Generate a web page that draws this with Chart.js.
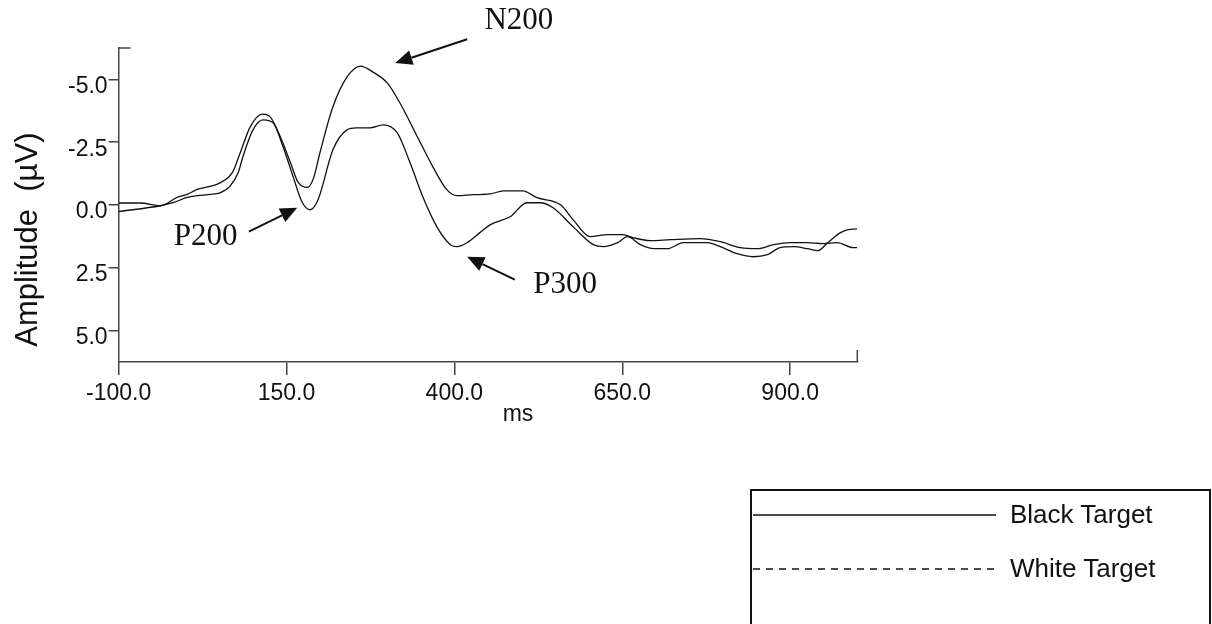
<!DOCTYPE html>
<html>
<head>
<meta charset="utf-8">
<script src="https://cdn.jsdelivr.net/npm/chart.js@4.4.1/dist/chart.umd.min.js"></script>
<style>
html,body{margin:0;padding:0;background:#fff;overflow:hidden}
#wrap{position:relative;width:1212px;height:624px}
#legend{position:absolute;left:750px;top:489px;width:457px;height:200px;border:2px solid #111;
  font-family:'Liberation Sans',Arial,sans-serif;font-size:26px;color:#111}
#legend .row{position:absolute;left:0;height:30px;width:100%}
#legend svg{position:absolute;left:1px;top:0}
#legend span{position:absolute;left:258px;top:0;line-height:30px}
</style>
</head>
<body>
<div id="wrap">
  <canvas id="chart" width="1212" height="624"></canvas>
  <div id="legend">
    <div class="row" style="top:8px">
      <svg width="245" height="30"><line x1="0" y1="16" x2="243" y2="16" stroke="#111" stroke-width="1.6"/></svg>
      <span>Black Target</span>
    </div>
    <div class="row" style="top:62px">
      <svg width="245" height="30"><line x1="0" y1="16" x2="243" y2="16" stroke="#111" stroke-width="1.5" stroke-dasharray="7 6"/></svg>
      <span>White Target</span>
    </div>
  </div>
</div>
<script>
// tick labels
const xTicks = [-100, 150, 400, 650, 900]
const yTicks = [-5, -2.5, 0, 2.5, 5]

// Black Target (bigger N200)
const msBlack = [-100,-68,-38,-13,2,17,32,51,70,81,96,114,126,141,156,167,181,190,200,219,240,260,279,300,319,345,368,389,404,428,453,473,502,523,558,577,602,628,651,666,692,722,766,796,826,851,875,900,925,949,970,994,1000]
const uvBlack = [-0.08,-0.08,0.03,-0.3,-0.42,-0.62,-0.72,-0.88,-1.32,-2.07,-3.11,-3.62,-3.50,-2.71,-1.68,-0.92,-0.70,-1.05,-2.1,-3.90,-5.09,-5.53,-5.29,-4.86,-4.06,-2.71,-1.52,-0.60,-0.37,-0.41,-0.44,-0.56,-0.56,-0.29,-0.01,0.59,1.26,1.18,1.18,1.30,1.42,1.38,1.34,1.46,1.70,1.74,1.58,1.50,1.50,1.54,1.50,1.70,1.70]

// White Target
const msWhite = [-100,-38,-19,2,17,36,51,66,78,85,100,115,130,145,160,173,185,197,219,240,254,274,294,315,334,353,374,394,404,419,438,453,483,508,528,547,577,607,622,643,658,677,697,717,741,777,796,821,845,866,885,905,926,941,956,975,985,1000]
const uvWhite = [0.26,0.03,-0.09,-0.3,-0.37,-0.42,-0.48,-0.75,-1.28,-1.91,-2.99,-3.39,-3.27,-2.31,-1.12,-0.13,0.19,-0.21,-2.19,-2.99,-3.07,-3.07,-3.19,-2.87,-1.68,-0.33,0.87,1.58,1.66,1.50,1.10,0.79,0.47,-0.09,-0.09,0.11,0.87,1.58,1.66,1.50,1.26,1.58,1.74,1.74,1.50,1.50,1.66,1.94,2.06,1.98,1.70,1.66,1.74,1.82,1.50,1.10,0.99,0.95]

const toPts = (xs, ys) => xs.map((x, i) => ({x: x, y: ys[i]}))

const sans = "'Liberation Sans', Arial, sans-serif"
const serif = "'Liberation Serif', 'Times New Roman', serif"
const axisColor = '#444'

// peak labels, placed in data units (ms, µV)
const notes = [
  {text: 'N200', at: [496, -7.32], from: [419, -6.60], to: [312, -5.65]},
  {text: 'P200', at: [29.5, 1.28], from: [94, 1.06], to: [166, 0.11]},
  {text: 'P300', at: [565, 3.17], from: [490, 2.97], to: [419, 2.06]},
]

function arrow(ctx, x1, y1, x2, y2){
  const ang = Math.atan2(y2 - y1, x2 - x1)
  const len = 17, half = 7.5
  const bx = x2 - len*Math.cos(ang), by = y2 - len*Math.sin(ang)
  ctx.beginPath()
  ctx.moveTo(x1, y1)
  ctx.lineTo(bx, by)
  ctx.lineWidth = 2
  ctx.stroke()
  ctx.beginPath()
  ctx.moveTo(x2, y2)
  ctx.lineTo(bx + half*Math.sin(ang), by - half*Math.cos(ang))
  ctx.lineTo(bx - half*Math.sin(ang), by + half*Math.cos(ang))
  ctx.closePath()
  ctx.fill()
}

const extras = {
  id: 'extras',
  afterDraw(chart){
    const ctx = chart.ctx
    const xs = chart.scales.x, ys = chart.scales.y
    const area = chart.chartArea
    ctx.save()
    ctx.fillStyle = '#111'
    ctx.strokeStyle = '#111'

    // annotations
    ctx.font = '31px ' + serif
    ctx.textAlign = 'center'
    ctx.textBaseline = 'middle'
    notes.forEach(n => {
      ctx.fillText(n.text, xs.getPixelForValue(n.at[0]), ys.getPixelForValue(n.at[1]))
      arrow(ctx, xs.getPixelForValue(n.from[0]), ys.getPixelForValue(n.from[1]),
                 xs.getPixelForValue(n.to[0]), ys.getPixelForValue(n.to[1]))
    })

    // axis end caps
    ctx.strokeStyle = axisColor
    ctx.lineWidth = 1.5
    ctx.beginPath()
    ctx.moveTo(area.left, area.top)
    ctx.lineTo(area.left + 12, area.top)
    ctx.moveTo(area.right, area.bottom)
    ctx.lineTo(area.right, area.bottom - 12)
    ctx.stroke()

    // y title
    ctx.translate(28, ys.getPixelForValue(1.38))
    ctx.rotate(-Math.PI/2)
    ctx.font = '31px ' + sans
    ctx.fillText('Amplitude  (µV)', 0, 0)
    ctx.restore()

    // x title
    ctx.save()
    ctx.fillStyle = '#111'
    ctx.font = '23px ' + sans
    ctx.textAlign = 'center'
    ctx.textBaseline = 'middle'
    ctx.fillText('ms', 518, area.bottom + 53)
    ctx.restore()
  }
}

const ctx = document.getElementById('chart').getContext('2d')
new Chart(ctx, {
  type: 'line',
  data: {
    datasets: [
      {label: 'Black Target', data: toPts(msBlack, uvBlack), borderColor: '#111', borderWidth: 1.3,
       pointRadius: 0, cubicInterpolationMode: 'monotone', fill: false},
      {label: 'White Target', data: toPts(msWhite, uvWhite), borderColor: '#111', borderWidth: 1.3,
       pointRadius: 0, cubicInterpolationMode: 'monotone', fill: false},
    ]
  },
  options: {
    responsive: false,
    animation: false,
    devicePixelRatio: 1,
    layout: {padding: {left: 0, top: 48, right: 354.7, bottom: 222}},
    plugins: {legend: {display: false}, tooltip: {enabled: false}},
    scales: {
      x: {
        type: 'linear', min: -100, max: 1000,
        afterBuildTicks: s => { s.ticks = xTicks.map(v => ({value: v})) },
        afterFit: s => { s.height = 40 },
        grid: {drawOnChartArea: false, tickLength: 13, color: axisColor, lineWidth: 1.5},
        border: {color: axisColor, width: 1.5},
        ticks: {padding: 5, color: '#111', font: {family: sans, size: 23}, maxRotation: 0, autoSkip: false,
                callback: v => v.toFixed(1)}
      },
      y: {
        type: 'linear', min: -6.25, max: 6.25, reverse: true,
        afterBuildTicks: s => { s.ticks = yTicks.map(v => ({value: v})) },
        afterFit: s => { s.width = 118.6 },
        grid: {drawOnChartArea: false, tickLength: 10, color: axisColor, lineWidth: 1.5},
        border: {color: axisColor, width: 1.5},
        ticks: {padding: 1, labelOffset: 7, color: '#111', font: {family: sans, size: 23}, autoSkip: false,
                callback: v => v.toFixed(1)}
      }
    }
  },
  plugins: [extras]
})
</script>
</body>
</html>
